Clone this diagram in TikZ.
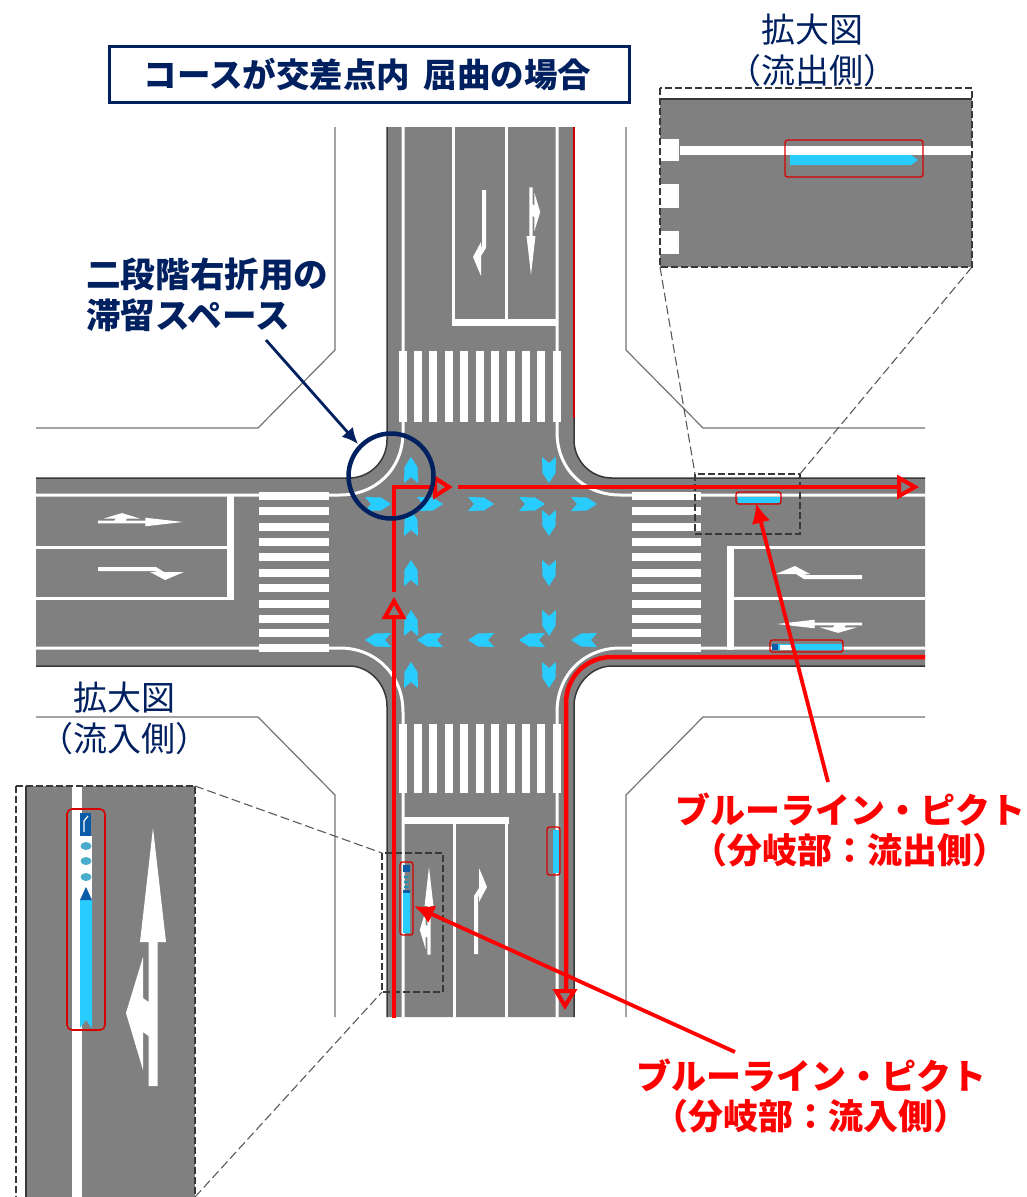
\documentclass[tikz,border=0pt]{standalone}
\usepackage{fontspec}
\setmainfont{Noto Sans CJK JP}
\usetikzlibrary{arrows.meta}
\definecolor{navy}{HTML}{002060}
\definecolor{roadgray}{HTML}{808080}
\definecolor{curbdark}{HTML}{383838}
\definecolor{pictblue}{HTML}{29CCFF}
\definecolor{signblue}{HTML}{0B5CA8}

\tikzset{
  curb/.style={draw=curbdark,line width=1.5pt},
  plot line/.style={draw=black!55,line width=1.2pt},
  lane/.style={draw=white,line width=3pt},
  stop/.style={draw=white,line width=7pt},
  zoom box/.style={draw=curbdark,line width=1.5pt,dash pattern=on 7pt off 3pt},
  zoom line/.style={draw=black!65,line width=1.1pt,dash pattern=on 9pt off 4pt},
  route/.style={draw=red,line width=4.5pt},
  route head/.style={draw=red,line width=4pt,miter limit=10},
  pict box/.style={draw=red!85!black,line width=1.3pt,rounded corners=2.5pt},
  pointer/.style={-{Latex[length=20pt,width=19pt]},draw=red,line width=3.8pt},
  stay pointer/.style={-{Latex[length=16pt,width=15pt]},draw=navy,line width=2.8pt},
  zoom text/.style={text=navy,align=center,font=\fontsize{34}{41}\selectfont},
  pict text/.style={text=red,align=center,font=\bfseries\fontsize{35}{40}\selectfont},
  stay text/.style={text=navy,align=left,anchor=west,font=\bfseries\fontsize{34.6}{41}\selectfont},
  chevron/.pic={\fill[pictblue] (0,-13)--(6.5,-3)--(7,13)--(0,7)--(-7,13)--(-6.5,-3)--cycle;},
  straight left/.pic={\fill[white] (0,0)--(13,114)--(4.5,114)--(4.5,258)--(-4.5,258)--(-4.5,208)--(-10,204)--(-10,242)--(-27,185)--(-10,129)--(-10,170)--(-4.5,174)--(-4.5,114)--(-13,114)--cycle;},
  turn right/.pic={\fill[white] (-2,0)--(-2,-58)--(3,-66)--(3,-86)--(11,-67)--(3,-52)--(3,-60)--(2,-55)--(2,0)--cycle;}
}

\begin{document}
\begin{tikzpicture}[x=1pt,y=-1pt]
\useasboundingbox (0,0) rectangle (1027,1197);

% plot corners
\draw[plot line] (335,127)--(335,350)--(258,428)--(36,428);
\draw[plot line] (626,127)--(626,350)--(703,428)--(925,428);
\draw[plot line] (335,1017)--(335,795)--(258,717)--(36,717);
\draw[plot line] (626,1017)--(626,795)--(703,717)--(925,717);

% road surface
\fill[roadgray] (387,127)--(574,127)--(574,440) .. controls (574,461) and (591,478) .. (612,478)
  --(925,478)--(925,666)--(612,666) .. controls (591,666) and (574,685) .. (574,706)
  --(574,1017)--(387,1017)--(387,706) .. controls (387,685) and (370,666) .. (349,666)
  --(36,666)--(36,478)--(349,478) .. controls (370,478) and (387,461) .. (387,440)--cycle;
\draw[curb] (387,127)--(387,440) .. controls (387,461) and (370,478) .. (349,478)--(36,478);
\draw[curb] (574,418)--(574,440) .. controls (574,461) and (591,478) .. (612,478)--(925,478);
\draw[draw=red!80!black,line width=1.5pt] (574,127)--(574,418);
\draw[curb] (387,1017)--(387,706) .. controls (387,685) and (370,666) .. (349,666)--(36,666);
\draw[curb] (574,1017)--(574,706) .. controls (574,685) and (591,666) .. (612,666)--(925,666);

% lane lines
\draw[lane] (403,127)--(403,432) .. controls (403,470) and (375,495) .. (340,495)--(36,495);
\draw[lane] (557,127)--(557,432) .. controls (557,470) and (585,495) .. (620,495)--(925,495);
\draw[lane] (403,1017)--(403,712) .. controls (403,674) and (375,648) .. (340,648)--(36,648);
\draw[lane] (557,1017)--(557,712) .. controls (557,674) and (585,648) .. (620,648)--(925,648);
\draw[lane] (453,127)--(453,322) (506,127)--(506,322);
\draw[lane] (454,820)--(454,1017) (506,820)--(506,1017);
\draw[lane] (36,547)--(233,547) (36,598)--(233,598);
\draw[lane] (730,547)--(925,547) (730,598)--(925,598);
\draw[stop] (451.5,322)--(557,322);
\draw[stop] (403,820)--(509,820);
\draw[stop] (230,494)--(230,600);
\draw[stop] (730,545.5)--(730,650);

% crossings
\foreach \bx in {403,418,433,449,464,480,495,511,526,541,557} {
  \fill[white] (\bx-4,351) rectangle (\bx+4,422);
  \fill[white] (\bx-4,724) rectangle (\bx+4,793);
}
\foreach \by in {496,511,527,542,557,573,588,604,619,633,648} {
  \fill[white] (259,\by-4) rectangle (329,\by+4);
  \fill[white] (632,\by-4) rectangle (701,\by+4);
}

% road arrows
\pic[scale=.34] at (531,275) [rotate=180] {straight left};
\pic[scale=.34] at (429,867) {straight left};
\pic[scale=.33] at (183,522) [rotate=-90] {straight left};
\pic[scale=.33] at (777,624) [rotate=90] {straight left};
\pic at (484,190) [rotate=180] {turn right};
\pic at (476,954) {turn right};
\pic at (98,569) [rotate=-90] {turn right};
\pic at (862,577) [rotate=90] {turn right};

% blue chevrons
\foreach \cy in {470,523,573,623,675} {
  \pic at (411,\cy) {chevron};
  \pic at (549,\cy) [rotate=180] {chevron};
}
\foreach \cx in {378,430,481,532,584} {
  \pic at (\cx,504) [rotate=-90] {chevron};
  \pic at (\cx,640) [rotate=90] {chevron};
}

% small picts
\fill[pictblue] (738,497) rectangle (780,503);
\draw[pict box] (736,492) rectangle (781,504);
\fill[pictblue] (772,644) rectangle (842,650);
\fill[signblue] (772,644) rectangle (778,650);
\fill[white] (780,645) rectangle (795,650);
\draw[pict box] (770,640) rectangle (843,652);
\fill[pictblue] (553,830) rectangle (559,873);
\draw[pict box] (547,827) rectangle (560,875);
\fill[pictblue] (403,893) rectangle (410,933);
\fill[signblue] (403,865) rectangle (410,872);
\foreach \sy in {876,881,886} \fill[pictblue!70!black] (404,\sy) rectangle (409,\sy+2);
\fill[signblue] (403,890) rectangle (410,893);
\draw[pict box] (400,862) rectangle (413,935);

% zoom guides
\draw[zoom box] (695,474) rectangle (800,534);
\draw[zoom box] (382,853) rectangle (443,992);
\draw[zoom line] (660,267)--(695,474);
\draw[zoom line] (972,267)--(800,474);
\draw[zoom line] (195,786)--(382,853);
\draw[zoom line] (195,1197)--(382,992);

% zoom, outflow side
\fill[roadgray] (660,99) rectangle (972,267);
\fill[white] (680,145.5) rectangle (972,154.5);
\fill[white] (660,139) rectangle (679,161);
\fill[white] (660,184) rectangle (679,208);
\fill[white] (660,231) rectangle (679,254);
\fill[pictblue] (790,155)--(911,155)--(918,160)--(911,165)--(790,165)--cycle;
\draw[pict box] (785,140) rectangle (923,177);
\draw[curb] (660,99)--(972,99);
\draw[zoom box] (660,88) rectangle (972,267);

% zoom, inflow side
\fill[roadgray] (26,786) rectangle (195,1197);
\draw[curb] (26,786)--(26,1197);
\fill[white] (72,786) rectangle (82,1197);
\fill[pictblue] (80,900)--(92,900)--(92,1028)--(86,1020)--(80,1028)--cycle;
\fill[white] (82,836) rectangle (92,900);
\fill[signblue] (80,813) rectangle (91,836);
\draw[white,line width=1.2pt] (84,832)--(84,821)--(88,816);
\foreach \sy in {846,861,877} \fill[pictblue!60!gray] (86,\sy) ellipse (5.5 and 4);
\fill[signblue] (86,887)--(92,900)--(80,900)--cycle;
\draw[pict box,rounded corners=5pt,line width=1.6pt] (67,809) rectangle (105,1030);
\pic at (153,828) {straight left};
\draw[zoom box] (16,786)--(195,786)--(195,1197);
\draw[zoom box] (16,786)--(16,1197);

% routes
\coordinate (in start) at (394,1018);
\coordinate (in stop) at (394,617);
\coordinate (turn start) at (394,592);
\coordinate (turn corner) at (394,487);
\coordinate (turn stop) at (433,487);
\coordinate (out start) at (458,487);
\coordinate (out stop) at (898,487);
\draw[route] (in start)--(in stop);
\draw[route] (turn start)--(turn corner)--(turn stop);
\draw[route] (out start)--(out stop);
\draw[route] (925,657)--(612,657) .. controls (586,657) and (566,677) .. (566,703)--(566,991);
\draw[route head] (394,601)--(403,617)--(385,617)--cycle;
\draw[route head] (449,487)--(435,478)--(435,496)--cycle;
\draw[route head] (915,487)--(899,478)--(899,496)--cycle;
\draw[route head] (565,1006)--(556,991)--(574,991)--cycle;

% labels
\node (title) at (369.5,74) [draw=navy,line width=3pt,fill=white,minimum width=520pt,minimum height=56pt,inner sep=0pt,text=navy,font=\bfseries\fontsize{33.5}{36}\selectfont] {\raisebox{-3pt}{\hspace{-4pt}コースが交差点内\hspace{.4em}屈曲の場合}};
\node (outzoom) at (812,50) [zoom text] {拡大図\\（流出側）};
\node (inzoom) at (124,718) [zoom text] {拡大図\\（流入側）};
\node (stay) at (86,295) [stay text,inner sep=0pt] {二段階右折用の\\滞留スペース};
\node (outpict) at (850,830) [pict text] {ブルーライン・ピクト\\（分岐部：流出側）};
\node (inpict) at (811,1096) [pict text] {ブルーライン・ピクト\\（分岐部：流入側）};

\node (pocket) at (391,476) [circle,draw=navy,line width=4.5pt,minimum size=85pt,inner sep=0pt] {};
\coordinate (stay from) at (266,340);
\coordinate (stay to) at (358,444);
\coordinate (outpict from) at (828,782);
\coordinate (outpict to) at (756,503);
\coordinate (inpict from) at (735,1052);
\coordinate (inpict to) at (414,906);
\draw[stay pointer] (stay from)--(stay to);
\draw[pointer] (outpict from)--(outpict to);
\draw[pointer] (inpict from)--(inpict to);

\end{tikzpicture}
\end{document}
